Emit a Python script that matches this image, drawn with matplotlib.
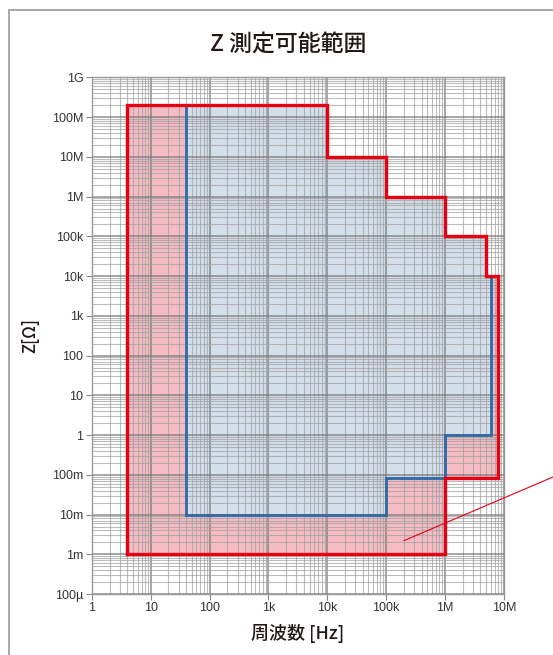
import matplotlib
matplotlib.use("Agg")
import matplotlib.pyplot as plt
from matplotlib.patches import Rectangle, Polygon
import numpy as np

plt.rcParams['font.family'] = ['Noto Sans CJK JP', 'DejaVu Sans']

# Outer (red) measurable range boundary: frequency [Hz], impedance [Ohm]
red_freq = [4, 4, 1e4, 1e4, 1e5, 1e5, 1e6, 1e6, 5e6, 5e6, 8e6, 8e6, 1e6, 1e6, 4]
red_z = [1e-3, 2e8, 2e8, 1e7, 1e7, 1e6, 1e6, 1e5, 1e5, 1e4, 1e4, 0.085, 0.085, 1e-3, 1e-3]

# Inner (blue) range boundary
blue_freq = [40, 40, 1e4, 1e4, 1e5, 1e5, 1e6, 1e6, 5e6, 5e6, 6e6, 6e6, 1e6, 1e6, 1e5, 1e5, 40]
blue_z = [1e-2, 2e8, 2e8, 1e7, 1e7, 1e6, 1e6, 1e5, 1e5, 1e4, 1e4, 1, 1, 0.085, 0.085, 1e-2, 1e-2]

x_ticks = [1, 10, 100, 1e3, 1e4, 1e5, 1e6, 1e7]
x_labels = ['1', '10', '100', '1k', '10k', '100k', '1M', '10M']
y_ticks = [1e-4, 1e-3, 1e-2, 1e-1, 1, 10, 100, 1e3, 1e4, 1e5, 1e6, 1e7, 1e8, 1e9]
y_labels = ['100µ', '1m', '10m', '100m', '1', '10', '100', '1k', '10k', '100k', '1M', '10M', '100M', '1G']

RED = '#e60012'
BLUE = '#2e6aa6'
TXT = '#231815'
TICKFONT = ['Liberation Sans', 'DejaVu Sans']

fig = plt.figure(figsize=(5.53, 6.55), dpi=100)
ax = fig.add_axes([0.166, 0.093, 0.745, 0.789])
ax.set_xscale('log')
ax.set_yscale('log')
ax.set_xlim(1, 1e7)
ax.set_ylim(1e-4, 1e9)

# fills
ax.add_patch(Polygon(list(zip(red_freq, red_z)), closed=True, facecolor='#f6bcc4',
                     edgecolor='none', zorder=0.2))
ax.add_patch(Polygon(list(zip(blue_freq, blue_z)), closed=True, facecolor='#d3dfea',
                     edgecolor='none', zorder=0.3))

ax.set_axisbelow(True)
ax.grid(which='major', color='#7a7a7a', lw=1.1, alpha=0.85)
ax.grid(which='minor', color='#a0a0a0', lw=0.8, alpha=0.7)
ax.yaxis.set_minor_locator(matplotlib.ticker.LogLocator(base=10, subs=np.arange(2, 10), numticks=50))
ax.xaxis.set_minor_locator(matplotlib.ticker.LogLocator(base=10, subs=np.arange(2, 10), numticks=50))

ax.plot(blue_freq, blue_z, color=BLUE, lw=2.0, zorder=3, solid_joinstyle='miter')
ax.plot(red_freq, red_z, color=RED, lw=2.4, zorder=4, solid_joinstyle='miter')

ax.set_xticks(x_ticks)
ax.set_xticklabels(x_labels, family=TICKFONT)
ax.set_yticks(y_ticks)
ax.set_yticklabels(y_labels, family=TICKFONT)
ax.tick_params(which='major', length=4, color='#888888', labelsize=9, labelcolor='#333333', pad=2)
ax.tick_params(which='minor', length=0)
for s in ax.spines.values():
    s.set_color('#999999')
    s.set_linewidth(1.0)

ax.set_xlabel('周波数 [Hz]', fontsize=13, color=TXT, labelpad=7, fontweight='medium')
ax.set_ylabel('Z[Ω]', fontsize=12, color=TXT, labelpad=9, fontweight='medium')

fig.text(0.521, 0.931, 'Z 測定可能範囲', ha='center', va='center', fontsize=16.5,
         color=TXT, fontweight='medium')

# annotation pointer line
ax.annotate('', xy=(2e5, 2.2e-3), xycoords='data', xytext=(1.0, 1 - 477 / 655),
            textcoords='figure fraction',
            arrowprops=dict(arrowstyle='-', color=RED, lw=0.8, shrinkA=0, shrinkB=0),
            annotation_clip=False, zorder=5)

# outer frame
fig.patches.append(Rectangle((9 / 553, -0.1), 1.2, 1 - 10 / 655 + 0.1, transform=fig.transFigure,
                             facecolor='none', edgecolor='#9a9a9a', lw=1.2))

fig.savefig('out.png', dpi=100)
